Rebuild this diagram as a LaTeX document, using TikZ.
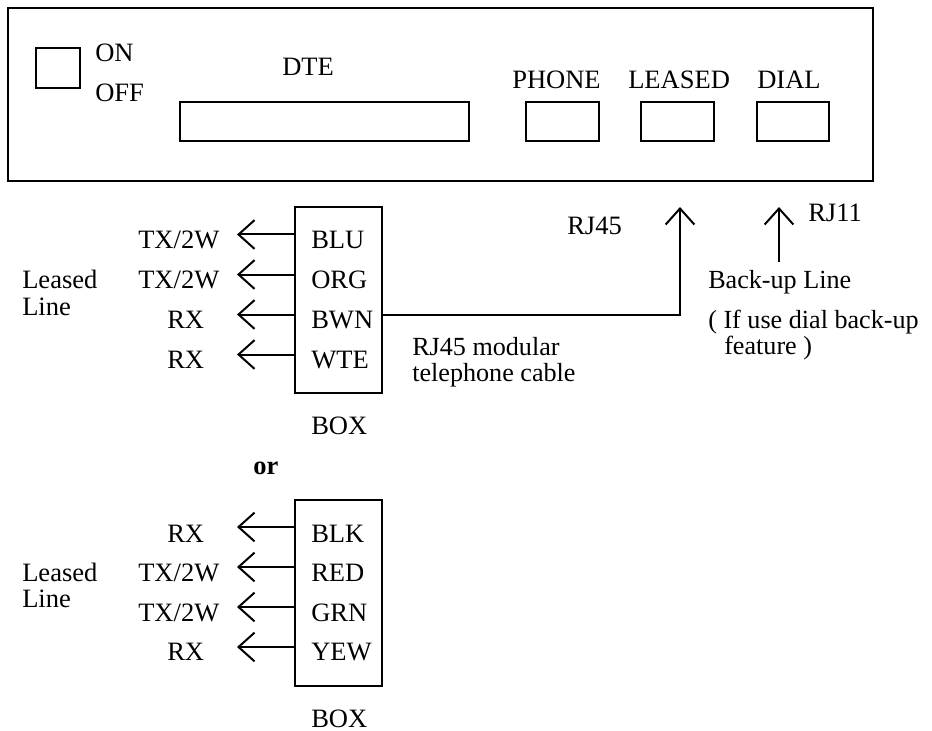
\documentclass[tikz,border=0pt]{standalone}
\usepackage{fontspec}
\setmainfont{Liberation Serif}
\usetikzlibrary{arrows.meta}
\tikzset{
 lbl/.style={inner sep=0pt,anchor=base west,font=\fontsize{19.9}{22}\selectfont},
 lbs/.style={lbl,font=\fontsize{19.6}{22}\selectfont},
 ln/.style={line width=1.5pt},
 arr/.style={ln,-{Straight Barb[length=12pt,width=21.5pt,line width=1.5pt]}},
 bx/.style={draw,line width=1.5pt,inner sep=0pt,outer sep=0pt,anchor=north west},
 pbox/.style={bx,minimum width=54.6pt,minimum height=29.6pt},
 cbox/.style={bx,minimum width=65.25pt,minimum height=139.5pt},
}
\begin{document}
\begin{tikzpicture}[x=0.75pt,y=-0.75pt]
\useasboundingbox (0,0) rectangle (932,731);
\node[bx,minimum width=865pt*0.75,minimum height=173pt*0.75] (panel) at (7.5,8.5) {};
\node[bx,minimum width=44pt*0.75,minimum height=40.5pt*0.75] (sw) at (36,48) {};
\node[bx,minimum width=289pt*0.75,minimum height=39.5pt*0.75] (dte) at (180,102) {};
\node[pbox] (phone) at (525.7,102) {};
\node[pbox] (leased) at (641,102) {};
\node[pbox] (dial) at (756.5,102) {};
\node[lbl] (on) at (95,62) {ON};
\node[lbl] (off) at (95,102) {OFF};
\node[lbl] (dtel) at (282,75.5) {DTE};
\node[lbl] (phl) at (512,89) {PHONE};
\node[lbl] (lel) at (628,89) {LEASED};
\node[lbl] (dil) at (757,89) {DIAL};
% box 1
\node[cbox] (box1) at (295,207) {};
\node[lbl] (blu) at (311,248.5) {BLU};
\node[lbl] (org) at (311,288.5) {ORG};
\node[lbl] (bwn) at (311,328.5) {BWN};
\node[lbl] (wte) at (311,368) {WTE};
\node[lbl] (t1) at (138,248.5) {TX/2W};
\node[lbl] (t2) at (138,288.5) {TX/2W};
\node[lbl] (t3) at (167,328.5) {RX};
\node[lbl] (t4) at (167,368) {RX};
\coordinate (a1) at (295,234.5); \coordinate (e1) at (237,234.5);
\coordinate (a2) at (295,274.5); \coordinate (e2) at (237,274.5);
\coordinate (a3) at (295,314.5); \coordinate (e3) at (237,314.5);
\coordinate (a4) at (295,354.5); \coordinate (e4) at (237,354.5);
\draw[arr] (a1) -- (e1);
\draw[arr] (a2) -- (e2);
\draw[arr] (a3) -- (e3);
\draw[arr] (a4) -- (e4);
\node[lbl] (b1) at (311,434.5) {BOX};
\node[lbl,font=\fontsize{19.9}{22}\selectfont\bfseries] (or) at (253,474) {or};
\node[lbl] (ll1) at (22,288) {Leased};
\node[lbl] (ll1b) at (22,315) {Line};
% box 2
\node[cbox] (box2) at (295,500) {};
\node[lbl] (blk) at (311,542) {BLK};
\node[lbl] (red) at (311,581) {RED};
\node[lbl] (grn) at (311,621) {GRN};
\node[lbl] (yew) at (311,660) {YEW};
\node[lbl] (u1) at (167,542) {RX};
\node[lbl] (u2) at (138,581) {TX/2W};
\node[lbl] (u3) at (138,621) {TX/2W};
\node[lbl] (u4) at (167,660) {RX};
\coordinate (c1) at (295,527); \coordinate (f1) at (237,527);
\coordinate (c2) at (295,567); \coordinate (f2) at (237,567);
\coordinate (c3) at (295,607); \coordinate (f3) at (237,607);
\coordinate (c4) at (295,647); \coordinate (f4) at (237,647);
\draw[arr] (c1) -- (f1);
\draw[arr] (c2) -- (f2);
\draw[arr] (c3) -- (f3);
\draw[arr] (c4) -- (f4);
\node[lbl] (b2) at (311,727) {BOX};
\node[lbl] (ll2) at (22,581) {Leased};
\node[lbl] (ll2b) at (22,607) {Line};
% cable
\coordinate (cs) at (382,314.5);
\coordinate (up1) at (680,207);
\draw[arr] (cs) -| (up1);
\node[lbl] (rj45) at (567,234) {RJ45};
\node[lbs] (m1) at (412,355) {RJ45 modular};
\node[lbs] (m2) at (412,381) {telephone cable};
\coordinate (st2) at (779,262);
\coordinate (up2) at (779,207);
\draw[arr] (st2) -- (up2);
\node[lbl] (rj11) at (808,222) {RJ11};
\node[lbs] (bk) at (708,288) {Back-up Line};
\node[lbs] (if1) at (708,328) {( If use dial back-up};
\node[lbs] (if2) at (724,354) {feature )};
\end{tikzpicture}
\end{document}
